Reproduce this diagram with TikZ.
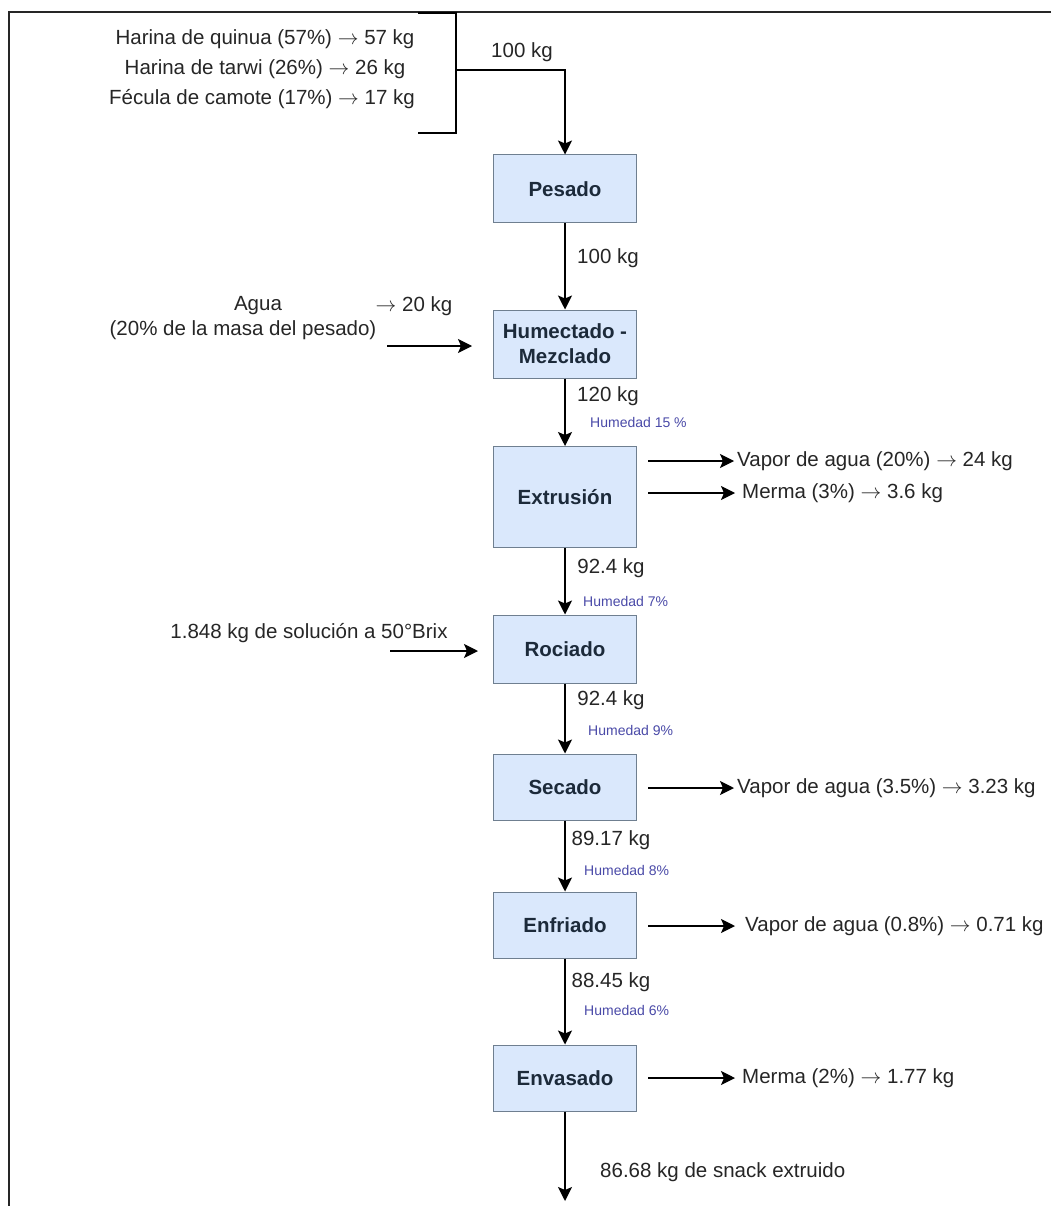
\documentclass[tikz,border=0pt]{standalone}
\usepackage{fontspec}
\setmainfont{Liberation Sans}
\usetikzlibrary{arrows.meta}
\definecolor{boxfill}{HTML}{DAE8FC}
\definecolor{boxline}{HTML}{6F7F90}
\definecolor{boxtext}{HTML}{1C2A3A}
\definecolor{txt}{HTML}{262626}
\definecolor{humc}{HTML}{4A4AA8}
\newcommand{\toarr}{$\rightarrow$}
\begin{document}
\begin{tikzpicture}[x=1pt,y=-1pt,
  proc/.style={draw=boxline, fill=boxfill, line width=1pt, minimum width=143pt,
    minimum height=68pt, font=\fontsize{20.5}{25}\selectfont\bfseries,
    text=boxtext, align=center, inner sep=0pt},
  flow/.style={line width=1.4pt, draw=black, -{Stealth[length=14pt,width=14pt,inset=3pt]}},
  plain/.style={line width=1.5pt, draw=black},
  lbl/.style={font=\fontsize{20.5}{25}\selectfont, text=txt, inner sep=0pt},
  humlbl/.style={font=\fontsize{14}{16}\selectfont, text=humc, inner sep=0pt},
]
\useasboundingbox (0,0) rectangle (1051,1206);
\fill[white] (0,0) rectangle (1051,1206);
% frame (cropped)
\draw[line width=2pt, black!85] (1051,12) -- (9,12) -- (9,1206);

% inputs
\node[lbl] (quinua) at (265,39) {Harina de quinua (57\%) \toarr{} 57 kg};
\node[lbl] (tarwi) at (265,69) {Harina de tarwi (26\%) \toarr{} 26 kg};
\node[lbl] (camote) at (262,99) {Fécula de camote (17\%) \toarr{} 17 kg};
\coordinate (bt) at (418,13);
\coordinate (btr) at (456,13);
\coordinate (bbr) at (456,133);
\coordinate (bb) at (418,133);
\coordinate (bm) at (456,70);
\coordinate (bk) at (565,70);
\draw[plain] (bt) -- (btr) -- (bbr) -- (bb);
\node[lbl] (m0) at (522,52) {100 kg};

% process boxes
\node[proc] (npes) at (565,189) {Pesado};
\node[proc] (nhum) at (565,344) {Humectado -\\Mezclado};
\node[proc, minimum height=101pt] (next) at (565,497) {Extrusión};
\node[proc] (nroc) at (565,649) {Rociado};
\node[proc, minimum height=66pt] (nsec) at (565,787) {Secado};
\node[proc, minimum height=66pt] (nenf) at (565,925) {Enfriado};
\node[proc, minimum height=66pt] (nenv) at (565,1078) {Envasado};
\coordinate (nend) at (565,1201);

% main flow
\draw[flow] (bm) -- (bk) -- (npes);
\draw[flow] (npes) -- (nhum);
\draw[flow] (nhum) -- (next);
\draw[flow] (next) -- (nroc);
\draw[flow] (nroc) -- (nsec);
\draw[flow] (nsec) -- (nenf);
\draw[flow] (nenf) -- (nenv);
\draw[flow] (nenv) -- (nend);

% flow labels
\node[lbl] (m1) at (608,258) {100 kg};
\node[lbl] (m2) at (608,396) {120 kg};
\node[humlbl, anchor=west] (h2) at (590,422) {Humedad 15 \%};
\node[lbl] (m3) at (611,568) {92.4 kg};
\node[humlbl, anchor=west] (h3) at (583,601) {Humedad 7\%};
\node[lbl] (m4) at (611,700) {92.4 kg};
\node[humlbl, anchor=west] (h4) at (588,730) {Humedad 9\%};
\node[lbl] (m5) at (611,840) {89.17 kg};
\node[humlbl, anchor=west] (h5) at (584,870) {Humedad 8\%};
\node[lbl] (m6) at (611,982) {88.45 kg};
\node[humlbl, anchor=west] (h6) at (584,1010) {Humedad 6\%};
\node[lbl, anchor=west] (m7) at (600,1172) {86.68 kg de snack extruido};

% water input
\node[lbl] (agua) at (258,306) {Agua};
\node[lbl] (agua2) at (414,306) {\toarr{} 20 kg};
\node[lbl] (agua3) at (243,330) {(20\% de la masa del pesado)};
\coordinate (wa) at (387,346);
\coordinate (wb) at (472,346);
\draw[flow] (wa) -- (wb);

% syrup input
\node[lbl] (sol) at (309,633) {1.848 kg de solución a 50°Brix};
\coordinate (sa) at (390,651);
\coordinate (sb) at (478,651);
\draw[flow] (sa) -- (sb);

% outputs
\coordinate (o1) at (648,461);
\node[lbl, anchor=west] (v1) at (737,461) {Vapor de agua (20\%) \toarr{} 24 kg};
\draw[flow, shorten >=3pt] (o1) -- (v1.west);
\coordinate (o2) at (648,493);
\node[lbl, anchor=west] (v2) at (742,493) {Merma (3\%) \toarr{} 3.6 kg};
\draw[flow, shorten >=7pt] (o2) -- (v2.west);
\coordinate (o3) at (648,788);
\node[lbl, anchor=west] (v3) at (737,788) {Vapor de agua (3.5\%) \toarr{} 3.23 kg};
\draw[flow, shorten >=3pt] (o3) -- (v3.west);
\coordinate (o4) at (648,926);
\node[lbl, anchor=west] (v4) at (745,926) {Vapor de agua (0.8\%) \toarr{} 0.71 kg};
\draw[flow, shorten >=10pt] (o4) -- (v4.west);
\coordinate (o5) at (648,1078);
\node[lbl, anchor=west] (v5) at (742,1078) {Merma (2\%) \toarr{} 1.77 kg};
\draw[flow, shorten >=7pt] (o5) -- (v5.west);
\end{tikzpicture}
\end{document}
